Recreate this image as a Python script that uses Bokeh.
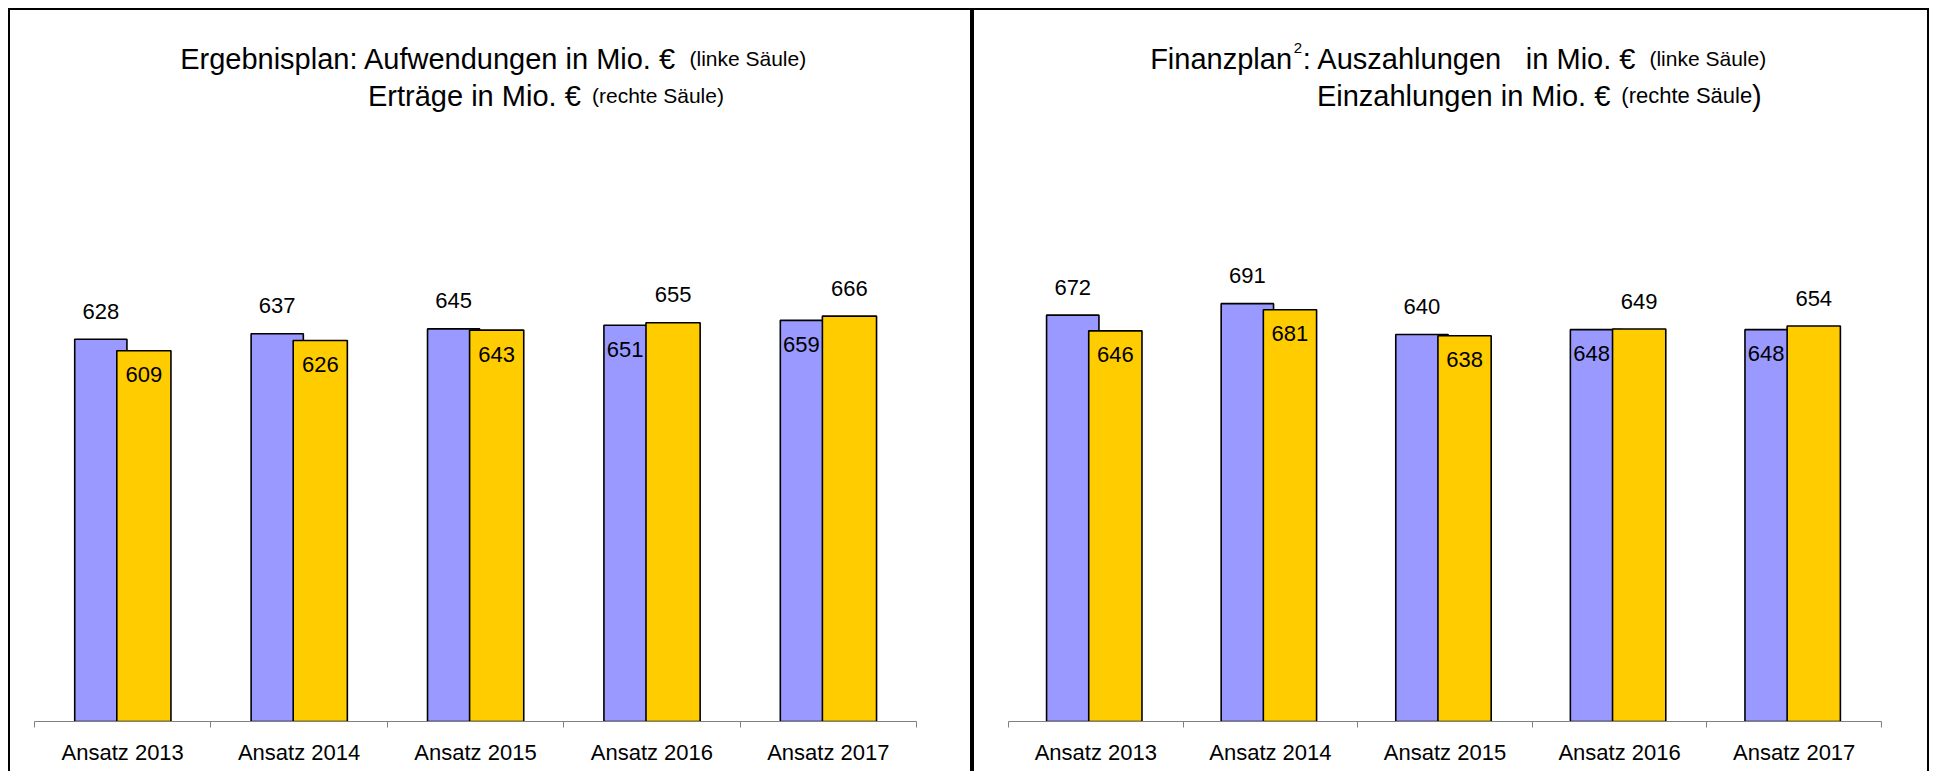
import numpy as np
from bokeh.plotting import figure
from bokeh.models import Range1d, FixedTicker, Label, ColumnDataSource
from bokeh.layouts import row
from bokeh.embed import file_html
from bokeh.resources import INLINE
from bokeh.core.properties import value

categories = ["Ansatz 2013", "Ansatz 2014", "Ansatz 2015", "Ansatz 2016", "Ansatz 2017"]
ergebnis_aufwendungen = [628, 637, 645, 651, 659]
ergebnis_ertraege = [609, 626, 643, 655, 666]
finanz_auszahlungen = [672, 691, 640, 648, 648]
finanz_einzahlungen = [646, 681, 638, 649, 654]

BLUE = "#9999FF"
YELLOW = "#FFCC00"
FONT = "Liberation Sans"
AXIS_GREY = "#808080"


def make_panel(left_vals, right_vals, width, height, mb_left, mb_right, axis_px, scale,
               off_l, w_l, off_r, w_r, title_parts, styles):
    n = len(categories)
    y_end = axis_px / scale
    frame_w = width - mb_left - mb_right
    p = figure(width=width, height=height, output_backend="svg", toolbar_location=None,
               x_range=Range1d(0, n), y_range=Range1d(0, y_end),
               min_border_left=mb_left, min_border_right=mb_right, min_border_top=0,
               min_border_bottom=height - axis_px, y_axis_location=None,
               styles=styles)
    p.outline_line_color = None
    p.xgrid.grid_line_color = None
    p.ygrid.grid_line_color = None
    p.background_fill_color = "white"
    p.border_fill_color = "white"

    centers = np.arange(n) + 0.5
    ax = p.xaxis[0]
    ax.ticker = FixedTicker(ticks=list(centers), minor_ticks=list(range(n + 1)))
    ax.major_label_overrides = {float(c): cat for c, cat in zip(centers, categories)}
    ax.major_tick_line_color = None
    ax.minor_tick_line_color = AXIS_GREY
    ax.minor_tick_out = 6
    ax.minor_tick_in = 0
    ax.axis_line_color = AXIS_GREY
    ax.axis_line_width = 1
    ax.major_label_text_font = FONT
    ax.major_label_text_font_size = "22px"
    ax.major_label_text_color = "black"
    ax.major_label_standoff = 12

    p.vbar(x=centers + off_l, top=left_vals, bottom=0, width=w_l,
           fill_color=BLUE, line_color="black", line_width=1.6)
    p.vbar(x=centers + off_r, top=right_vals, bottom=0, width=w_r,
           fill_color=YELLOW, line_color="black", line_width=1.6)

    above = dict(x=[], y=[], t=[])
    inside_l = dict(x=[], y=[], t=[])
    inside_r = dict(x=[], y=[], t=[])
    for c, a, b in zip(centers, left_vals, right_vals):
        if a >= b:
            above["x"].append(c + off_l); above["y"].append(a); above["t"].append(str(a))
            inside_r["x"].append(c + off_r); inside_r["y"].append(b); inside_r["t"].append(str(b))
        else:
            above["x"].append(c + off_r); above["y"].append(b); above["t"].append(str(b))
            inside_l["x"].append(c + off_l); inside_l["y"].append(a); inside_l["t"].append(str(a))
    for d, yo, xo in ((above, -28, 0), (inside_r, 24, 0), (inside_l, 24, -5)):
        p.text(x="x", y="y", text="t", source=ColumnDataSource(d), y_offset=yo, x_offset=xo,
               text_align="center", text_baseline="middle",
               text_font=value(FONT), text_font_size="22px", text_color="black")

    # title pieces positioned in canvas pixels, converted to data coordinates
    for txt, cx, cy, size in title_parts:
        xd = (cx - mb_left) / frame_w * n
        yd = (axis_px - cy) / scale
        p.add_layout(Label(x=xd, y=yd, text=txt, text_font=FONT, text_font_size=size,
                           text_color="black", text_align="left", text_baseline="alphabetic"))
    return p


BIG = "29px"
SMALL = "21px"
L1 = 48
L2 = 85

left_title = [
    ("Ergebnisplan: Aufwendungen in Mio. €", 169, L1, BIG),
    ("(linke Säule)", 676, L1, SMALL),
    ("Erträge in Mio. €", 356, L2, BIG),
    ("(rechte Säule)", 579, L2, SMALL),
]
right_title = [
    ("Finanzplan", 175, L1, BIG),
    ("2", 318, L1 - 11, "15px"),
    (": Auszahlungen", 327, L1, BIG),
    ("in Mio. €", 549, L1, BIG),
    ("(linke Säule)", 672, L1, SMALL),
    ("Einzahlungen in Mio. €", 341, L2, BIG),
    ("(rechte Säule", 644, L2, "22px"),
    (")", 774, L2, BIG),
]

left_style = {"box-sizing": "content-box", "border-top": "2px solid black",
              "border-left": "2px solid black", "border-right": "2px solid black",
              "margin-left": "8px", "margin-top": "8px"}
right_style = {"box-sizing": "content-box", "border-top": "2px solid black",
               "border-left": "2px solid black", "border-right": "2px solid black",
               "margin-top": "8px"}

p1 = make_panel(ergebnis_aufwendungen, ergebnis_ertraege, 960, 761, 24, 58, 709, 0.607,
                -0.124, 0.296, 0.12, 0.307, left_title, left_style)
p2 = make_panel(finanz_auszahlungen, finanz_einzahlungen, 953, 761, 34, 50, 709, 0.603,
                -0.132, 0.30, 0.112, 0.305, right_title, right_style)

layout = row(p1, p2, spacing=0)

open("out.html", "w").write(file_html(layout, INLINE))
